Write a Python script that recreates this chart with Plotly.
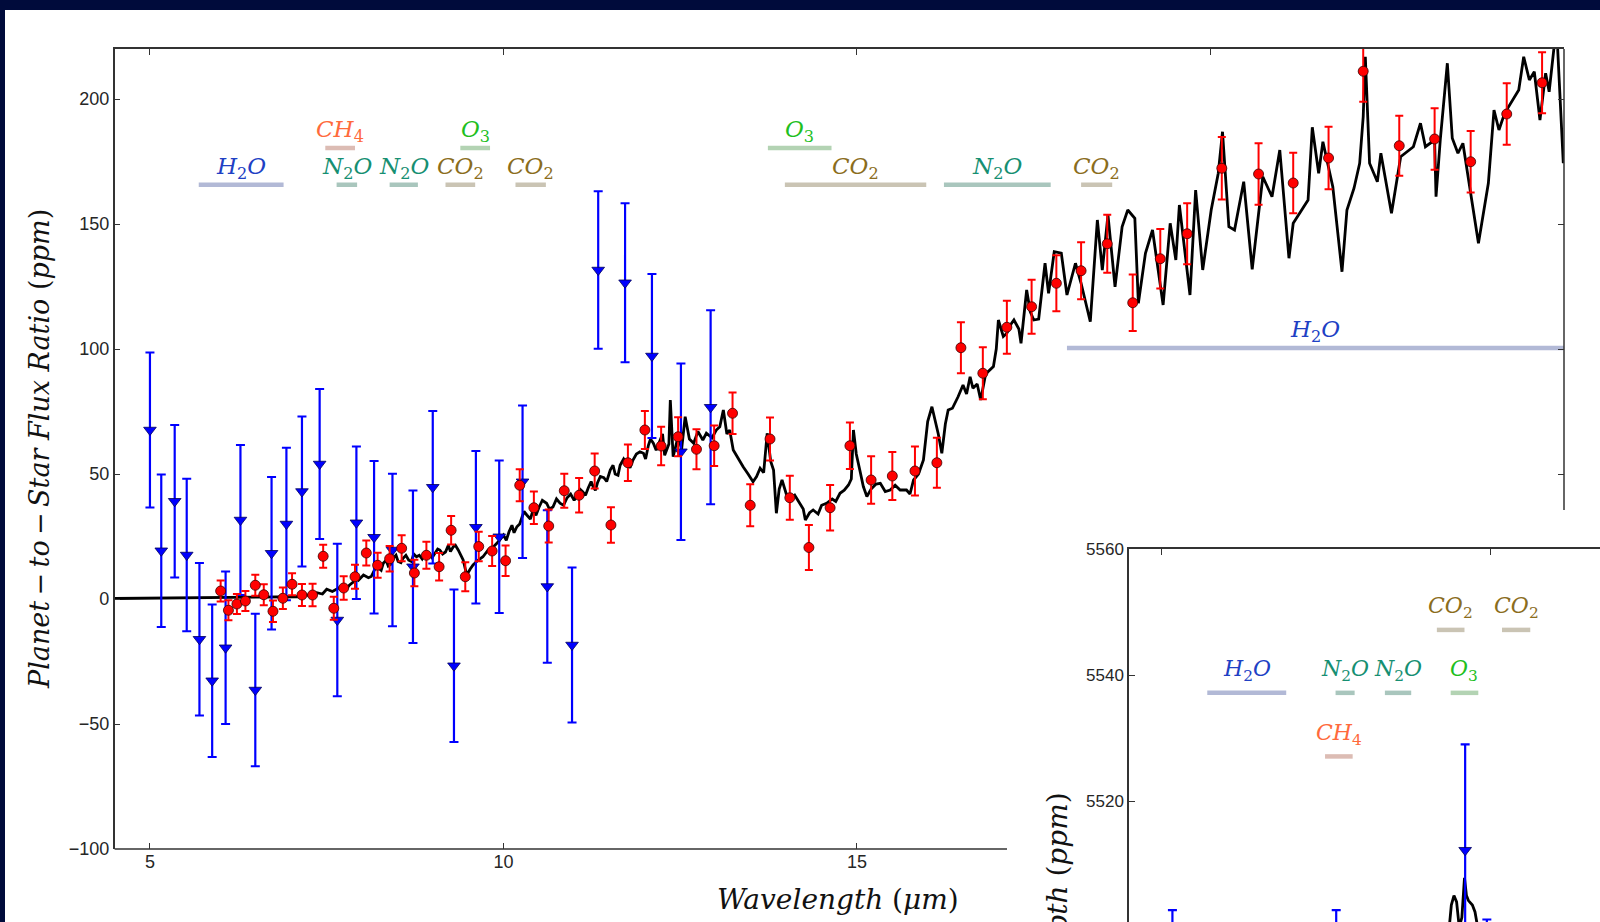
import plotly.graph_objects as go

W, H = 1600, 922

# ---------------- main panel data ----------------
# model spectrum (wavelength in micron, planet-to-star flux ratio in ppm)
model_wl = [4.5, 5.0, 5.5, 6.0, 6.5, 6.8, 7.0, 7.12, 7.2, 7.28, 7.36, 7.44, 7.50, 7.58, 7.69, 7.78,
            7.88, 7.95, 8.02, 8.09, 8.16, 8.23, 8.30, 8.37, 8.44, 8.51, 8.58, 8.66, 8.77, 8.85, 8.96,
            9.03, 9.10, 9.18, 9.29, 9.36, 9.43, 9.48, 9.53, 9.57, 9.64, 9.71, 9.78, 9.86, 9.93, 10.00,
            10.08, 10.19, 10.26, 10.33, 10.38, 10.42, 10.50, 10.61, 10.70, 10.80, 10.90, 11.04, 11.12,
            11.20, 11.27, 11.33, 11.42, 11.51, 11.58, 11.65, 11.74, 11.83, 11.93, 11.98, 12.05, 12.12,
            12.21, 12.28, 12.34, 12.36, 12.40, 12.47, 12.52, 12.57, 12.63, 12.69, 12.75, 12.82, 12.87,
            12.95, 13.01, 13.06, 13.11, 13.16, 13.20, 13.25, 13.32, 13.39, 13.46, 13.53, 13.58, 13.63,
            13.68, 13.73, 13.78, 13.82, 13.86, 13.90, 13.94, 14.00, 14.05, 14.12, 14.19, 14.24, 14.27,
            14.33, 14.38, 14.45, 14.50, 14.57, 14.65, 14.70, 14.76, 14.82, 14.88, 14.92, 14.95, 14.99,
            15.04, 15.09, 15.14, 15.20, 15.27, 15.33, 15.40, 15.47, 15.54, 15.61, 15.70, 15.75, 15.80,
            15.87, 15.94, 16.00, 16.06, 16.10, 16.15, 16.20, 16.25, 16.29, 16.35, 16.43, 16.50, 16.55,
            16.60, 16.64, 16.70, 16.75, 16.82, 16.93, 16.97, 17.00, 17.07, 17.12, 17.18, 17.22, 17.29,
            17.32, 17.40, 17.45, 17.50, 17.57, 17.66, 17.71, 17.79, 17.89, 17.97, 18.09, 18.17, 18.30,
            18.40, 18.47, 18.55, 18.65, 18.75, 18.83, 18.93, 18.98, 19.08, 19.18, 19.33, 19.43, 19.51,
            19.56, 19.71, 19.79, 19.89, 20.01, 20.11, 20.17, 20.26, 20.34, 20.47, 20.59, 20.74, 20.87,
            20.98, 21.11, 21.17, 21.38, 21.44, 21.53, 21.59, 21.73, 21.86, 21.93, 22.03, 22.11, 22.16,
            22.19, 22.25, 22.36, 22.41, 22.56, 22.69, 22.87, 22.97, 23.04, 23.17, 23.19, 23.25, 23.35,
            23.42, 23.50, 23.57, 23.68, 23.79, 23.93, 24.01, 24.08, 24.16, 24.36, 24.43, 24.51, 24.58,
            24.66, 24.74, 24.79, 24.86, 24.91, 24.99,
            # finer wiggles of the high-resolution part
            7.82, 7.92, 8.13, 8.20, 8.27, 8.34, 8.41, 8.48, 8.55, 8.62, 8.70, 8.73, 8.81, 8.90, 8.99,
            9.07, 9.14, 9.22, 9.25, 9.32,
            10.04, 10.12, 10.15, 10.23, 10.29, 10.46, 10.55, 10.65, 10.75, 10.85, 10.95, 11.00, 11.08,
            11.16, 11.24, 11.30, 11.37, 11.46, 11.55, 11.62, 11.70, 11.79, 11.88, 12.01, 12.08, 12.16,
            12.25]
model_fp = [0.2, 0.3, 0.3, 0.4, 0.5, 0.6, 0.9, 0.9, 1.8, 1.0, 2.5, 2.0, 3.9, 3.0, 4.7, 4.0,
            6.9, 7.5, 9.6, 8.5, 10.9, 12.5, 14.3, 13.2, 16.3, 15.0, 16.3, 15.5, 16.9, 16.0, 17.6,
            18.5, 19.6, 18.8, 20.9, 19.6, 15.6, 9.6, 12.0, 13.6, 15.5, 16.9, 19.5, 20.9, 23.0, 25.6,
            27.0, 28.9, 32.5, 33.6, 32.0, 35.6, 36.5, 38.3, 36.8, 38.3, 40.5, 41.6, 42.9,
            44.5, 44.9, 46.5, 48.5, 51.6, 50.0, 53.5, 54.3, 55.5, 58.9, 58.3, 61.5, 62.3,
            63.6, 57.5, 62.0, 79.6, 56.9, 65.0, 60.0, 72.9, 64.0, 62.3, 67.0, 63.6, 66.3,
            64.5, 67.6, 68.9, 75.6, 66.0, 67.6, 59.6, 56.0, 52.9, 50.0, 46.9, 49.0, 52.3,
            50.5, 66.3, 55.0, 51.6, 34.3, 44.0, 47.6, 42.0, 39.6, 41.5, 38.3, 36.0, 31.6,
            34.5, 35.6, 34.0, 37.5, 38.3, 40.0, 39.0, 42.3, 43.5, 45.6, 48.0, 67.6, 58.0,
            51.6, 45.0, 41.0, 44.0, 46.0, 46.3, 43.0, 43.6, 45.5, 43.6, 43.6, 42.0, 47.6,
            50.0, 55.6, 71.0, 76.9, 72.0, 66.0, 58.3, 70.0, 75.6, 76.3, 80.9, 85.6, 82.0,
            88.9, 84.3, 86.0, 79.6, 90.0, 93.0, 100.0, 111.6, 105.0, 106.3, 110.0, 111.6, 108.0,
            102.3, 123.6, 115.0, 111.6, 112.0, 134.3, 122.3, 138.9, 138.3, 121.6, 134.3, 126.3, 110.9,
            151.6, 131.6, 153.6, 124.9, 148.9, 155.6, 152.3, 118.3, 138.3, 147.6, 117.6, 150.3, 135.6,
            157.6, 121.6, 163.6, 131.6, 155.6, 170.3, 186.9, 148.9, 147.6, 166.9, 131.9, 168.9, 160.9,
            179.6, 136.3, 150.3, 159.6, 188.7, 170.3, 182.9, 164.9, 130.9, 155.6, 164.3, 174.3, 192.9,
            216.9, 174.3, 166.9, 178.3, 154.3, 176.9, 180.9, 190.3, 180.9, 183.6, 160.9, 183.6, 214.3,
            184.3, 178.3, 182.3, 162.3, 142.3, 166.3, 195.6, 187.6, 194.3, 203.6, 216.9, 207.6, 210.9,
            191.6, 210.3, 202.9, 220.9, 220.3, 174.3,
            5.5, 8.5, 9.0, 13.0, 11.5, 15.5, 14.0, 17.5, 14.5, 17.5, 15.0, 18.0, 17.5, 18.5, 16.5,
            20.0, 18.0, 21.5, 19.0, 21.5,
            23.5, 29.5, 26.5, 30.0, 35.0, 33.5, 39.5, 36.0, 40.0, 37.5, 42.0, 39.5, 44.0,
            41.5, 47.0, 43.5, 49.0, 47.0, 53.5, 49.5, 56.0, 52.5, 58.0, 56.0, 64.0, 59.5,
            66.0]

red_wl = [6.00, 6.11, 6.23, 6.35, 6.49, 6.61, 6.74, 6.88, 7.01, 7.15, 7.30, 7.45, 7.60, 7.74, 7.90,
          8.06, 8.22, 8.39, 8.56, 8.74, 8.91, 9.09, 9.26, 9.46, 9.65, 9.84, 10.03, 10.23, 10.43,
          10.64, 10.86, 11.07, 11.29, 11.52, 11.76, 12.00, 12.23, 12.47, 12.73, 12.98, 13.24, 13.49,
          13.77, 14.05, 14.32, 14.62, 14.90, 15.20, 15.50, 15.82, 16.13, 16.47, 16.78, 17.12, 17.47,
          17.82, 18.17, 18.54, 18.90, 19.29, 19.67, 20.16, 20.68, 21.17, 21.67, 22.16, 22.67, 23.17,
          23.68, 24.19, 24.69]
red_fp = [3.2, -4.5, -2.0, -0.8, 5.5, 1.7, -4.9, 0.3, 5.9, 1.6, 1.6, 17.1, -3.7, 4.4, 8.9,
          18.4, 13.5, 16.1, 20.3, 10.4, 17.5, 12.9, 27.5, 8.9, 21.0, 19.2, 15.3, 45.5, 36.5,
          29.2, 43.3, 41.5, 51.2, 29.6, 54.5, 67.6, 61.2, 64.9, 59.9, 61.3, 74.3, 37.5,
          64.0, 40.5, 20.6, 36.5, 61.3, 47.6, 49.2, 51.2, 54.5, 100.5, 90.3, 108.7, 116.9,
          126.3, 131.3, 142.1, 118.5, 136.1, 146.1, 172.3, 170.0, 166.4, 176.4, 211.1, 181.3, 184.0,
          174.9, 194.0, 206.5]
red_err = [4.2, 4.0, 4.0, 4.0, 4.2, 4.2, 4.3, 4.3, 4.4, 4.4, 4.5, 4.6, 4.6, 4.7, 4.8,
           5.0, 5.0, 5.1, 5.2, 5.3, 5.4, 5.5, 5.7, 5.8, 5.9, 6.0, 6.1, 6.4, 6.5,
           6.6, 6.8, 6.9, 7.0, 7.1, 7.3, 7.6, 7.7, 7.8, 8.0, 8.1, 8.3, 8.4,
           8.6, 8.8, 9.0, 9.1, 9.3, 9.5, 9.6, 9.8, 10.0, 10.2, 10.4, 10.6, 10.8,
           11.2, 11.4, 11.6, 11.3, 11.9, 12.2, 12.5, 12.3, 12.1, 12.5, 12.2, 12.0, 12.3,
           12.3, 12.3, 12.2]

blue_wl = [5.00, 5.16, 5.35, 5.52, 5.70, 5.88, 6.07, 6.28, 6.49, 6.72, 6.93, 7.15, 7.40, 7.65,
           7.92, 8.17, 8.43, 8.72, 9.00, 9.30, 9.61, 9.94, 10.27, 10.62, 10.97, 11.34, 11.72,
           12.10, 12.51, 12.93]
blue_fp = [67.6, 19.3, 39.1, 17.6, -16.1, -32.7, -19.5, 31.6, -36.4, 18.3, 30.0, 43.0, 54.0, -8.4,
           30.5, 24.7, 19.6, 12.9, 44.7, -26.7, 28.7, 24.9, 46.9, 5.0, -18.4, 131.6, 126.5,
           97.2, 58.9, 76.7]
blue_err = [31.0, 30.5, 30.5, 30.5, 30.5, 30.5, 30.5, 30.0, 30.5, 30.5, 30.5, 30.0, 30.0, 30.5,
            30.5, 30.5, 30.5, 30.5, 30.5, 30.5, 30.5, 30.5, 30.5, 30.5, 31.0, 31.5, 31.8,
            32.8, 35.3, 38.8]

band_mol = ["H2O", "CH4", "N2O", "N2O", "O3", "CO2", "CO2", "O3", "CO2", "N2O", "CO2", "H2O"]
band_x0 = [5.69, 7.48, 7.64, 8.39, 9.39, 9.18, 10.17, 13.74, 13.98, 16.23, 18.17, 17.97]
band_x1 = [6.89, 7.90, 7.93, 8.79, 9.81, 9.60, 10.60, 14.64, 15.98, 17.74, 18.61, 25.0]
band_y = [165.7, 180.4, 165.7, 165.7, 180.4, 165.7, 165.7, 180.4, 165.7, 165.7, 165.7, 100.4]

main_xticks = [5, 10, 15]
main_xticks_top = [5, 10, 15, 20]
main_yticks = [-100, -50, 0, 50, 100, 150, 200]
main_yticks_right = [50, 100, 150, 200]

# ---------------- inset data ----------------
inset_model_wl = [4.5, 6.0, 7.5, 8.5, 9.2, 9.36, 9.40, 9.44, 9.48, 9.52, 9.56, 9.60, 9.63, 9.66,
                  9.72, 9.76, 9.80, 9.85, 10.5, 11.7]
inset_model_td = [5490.0, 5492.0, 5494.0, 5496.0, 5498.0, 5499.0, 5503.5, 5505.0, 5504.0, 5500.0,
                  5501.5, 5507.8, 5505.0, 5504.2, 5503.5, 5502.4, 5500.0, 5497.0, 5495.0, 5494.0]
inset_blue_wl = [5.16, 7.65, 9.61, 9.94]
inset_blue_td = [5485.9, 5485.9, 5512.2, 5484.4]
inset_blue_err = [16.8, 16.8, 16.8, 16.8]

inset_band_mol = ["H2O", "N2O", "N2O", "O3", "CH4", "CO2", "CO2"]
inset_band_x0 = [5.69, 7.64, 8.39, 9.39, 7.48, 9.18, 10.17]
inset_band_x1 = [6.89, 7.93, 8.79, 9.81, 7.90, 9.60, 10.60]
inset_band_y = [5537.2, 5537.2, 5537.2, 5537.2, 5527.1, 5547.2, 5547.2]
inset_yticks = [5500, 5520, 5540, 5560]
inset_xticks = [5, 10]

# ---------------- styles ----------------
NAVY = "#000b3b"
SERIF = "DejaVu Serif"
SANS = "Liberation Sans"
TICKC = "#262626"
mol_html = {"H2O": "<i>H</i><sub>2</sub><i>O</i>", "N2O": "<i>N</i><sub>2</sub><i>O</i>",
            "CO2": "<i>CO</i><sub>2</sub>", "CH4": "<i>CH</i><sub>4</sub>", "O3": "<i>O</i><sub>3</sub>"}
mol_text_color = {"H2O": "#2040c4", "N2O": "#168f72", "CO2": "#8b6d1d", "CH4": "#ff6a3c", "O3": "#1fbf1f"}
mol_bar_color = {"H2O": "#b2b9d6", "N2O": "#a9c6bd", "CO2": "#cac4b4", "CH4": "#dcbcb4", "O3": "#b3d3b3"}


def px_x(p):
    return p / W


def px_y(p):
    return 1 - p / H


model_pts = sorted(zip(model_wl, model_fp))
mx = [p[0] for p in model_pts]
my = [p[1] for p in model_pts]

fig = go.Figure()

# bands (main)
for m, a, b, y in zip(band_mol, band_x0, band_x1, band_y):
    fig.add_trace(go.Scatter(x=[a, b], y=[y, y], mode="lines", xaxis="x", yaxis="y",
                             line=dict(color=mol_bar_color[m], width=4.5), hoverinfo="skip"))
# bands (inset)
for m, a, b, y in zip(inset_band_mol, inset_band_x0, inset_band_x1, inset_band_y):
    fig.add_trace(go.Scatter(x=[a, b], y=[y, y], mode="lines", xaxis="x2", yaxis="y2",
                             line=dict(color=mol_bar_color[m], width=4.5), hoverinfo="skip"))

fig.add_trace(go.Scatter(x=mx, y=my, mode="lines", xaxis="x", yaxis="y",
                         line=dict(color="black", width=2.8)))
fig.add_trace(go.Scatter(x=blue_wl, y=blue_fp, mode="markers", xaxis="x", yaxis="y",
                         marker=dict(symbol="triangle-down", size=11, color="#0000ff",
                                     line=dict(color="#00005a", width=0.8)),
                         error_y=dict(type="data", array=blue_err, color="#0000ff", thickness=2.2, width=4.5)))
fig.add_trace(go.Scatter(x=red_wl, y=red_fp, mode="markers", xaxis="x", yaxis="y",
                         marker=dict(symbol="circle", size=10, color="#ff0000",
                                     line=dict(color="#3a0000", width=0.8)),
                         error_y=dict(type="data", array=red_err, color="#ff0000", thickness=2, width=4)))

# inset traces
fig.add_trace(go.Scatter(x=inset_model_wl, y=inset_model_td, mode="lines", xaxis="x2", yaxis="y2",
                         line=dict(color="black", width=2.8)))
fig.add_trace(go.Scatter(x=inset_blue_wl, y=inset_blue_td, mode="markers", xaxis="x2", yaxis="y2",
                         marker=dict(symbol="triangle-down", size=11, color="#0000ff",
                                     line=dict(color="#00005a", width=0.8)),
                         error_y=dict(type="data", array=inset_blue_err, color="#0000ff", thickness=2.2, width=4.5)))

# dummy trace to activate mirrored tick axes
fig.add_trace(go.Scatter(x=[], y=[], xaxis="x3", yaxis="y3"))

ann = []
for m, a, b, y in zip(band_mol, band_x0, band_x1, band_y):
    ann.append(dict(x=(a + b) / 2, y=y, xref="x", yref="y", text=mol_html[m], showarrow=False,
                    yanchor="middle", xanchor="center", yshift=17,
                    font=dict(family=SERIF, size=23, color=mol_text_color[m])))
for m, a, b, y in zip(inset_band_mol, inset_band_x0, inset_band_x1, inset_band_y):
    ann.append(dict(x=(a + b) / 2, y=y, xref="x2", yref="y2", text=mol_html[m], showarrow=False,
                    yanchor="middle", xanchor="center", yshift=22,
                    font=dict(family=SERIF, size=22, color=mol_text_color[m])))

TS = "\u2009"
ann.append(dict(x=px_x(39), y=px_y(449), xref="paper", yref="paper", textangle=-90, showarrow=False,
                text=f"<i>Planet</i>{TS}−{TS}<i>to</i>{TS}−{TS}<i>Star Flux Ratio</i> (<i>ppm</i>)",
                xanchor="center", yanchor="middle", font=dict(family=SERIF, size=27, color="#111")))
ann.append(dict(x=px_x(838), y=px_y(899), xref="paper", yref="paper", showarrow=False,
                text="<i>Wavelength</i> (<i>μm</i>)",
                xanchor="center", yanchor="middle", font=dict(family=SERIF, size=28, color="#111")))
ann.append(dict(x=px_x(1057), y=px_y(790), xref="paper", yref="paper", textangle=-90, showarrow=False,
                text="<i>Transit Depth</i> (<i>ppm</i>)",
                xanchor="center", yanchor="top", font=dict(family=SERIF, size=28, color="#111")))

LINEC = "#333333"
axis_common = dict(showgrid=False, zeroline=False, ticks="inside", ticklen=6, tickwidth=1,
                   tickcolor=LINEC, linecolor=LINEC, linewidth=1.5, automargin=False,
                   tickfont=dict(family=SANS, size=18, color=TICKC))

main_xdom = [px_x(114.6), px_x(1564)]
main_ydom = [px_y(849), px_y(49)]

shapes = [
    dict(type="rect", xref="paper", yref="paper", x0=px_x(5), x1=1, y0=0, y1=px_y(10),
         fillcolor="white", line=dict(width=0), layer="below"),
    # partial right spine of the main panel (hidden lower part behind the inset)
    dict(type="line", xref="paper", yref="paper", x0=main_xdom[1], x1=main_xdom[1],
         y0=px_y(49), y1=px_y(510), line=dict(color=LINEC, width=1.5), layer="above"),
    # partial bottom spine of the main panel
    dict(type="line", xref="paper", yref="paper", x0=main_xdom[0], x1=px_x(1007),
         y0=main_ydom[0], y1=main_ydom[0], line=dict(color=LINEC, width=1.5), layer="above"),
]

fig.update_layout(
    template="none",
    width=W, height=H, margin=dict(l=0, r=0, t=0, b=0, pad=0, autoexpand=False),
    paper_bgcolor=NAVY, plot_bgcolor="white", showlegend=False,
    xaxis=dict(domain=main_xdom, range=[4.5, 25], anchor="y", tickvals=main_xticks,
               showline=False, **axis_common),
    yaxis=dict(domain=main_ydom, range=[-100, 220], anchor="x", tickvals=main_yticks,
               showline=True, **axis_common),
    xaxis3=dict(overlaying="x", side="top", anchor="y", range=[4.5, 25], tickvals=main_xticks_top,
                showticklabels=False, showline=True, **axis_common),
    yaxis3=dict(overlaying="y", side="right", anchor="x", range=[-100, 220], tickvals=main_yticks_right,
                showticklabels=False, showline=False, **axis_common),
    xaxis2=dict(domain=[px_x(1129), 1], range=[4.5, 11.66], anchor="y2", side="top",
                tickvals=inset_xticks, showticklabels=False, showline=True, **axis_common),
    yaxis2=dict(domain=[0, px_y(549)], range=[5500.8, 5560.05], anchor="x2", tickvals=inset_yticks,
                showline=True, **axis_common),
    shapes=shapes, annotations=ann,
)
fig.update_layout(yaxis2_tickfont=dict(family=SANS, size=17, color=TICKC))

fig.write_html("out.html")
